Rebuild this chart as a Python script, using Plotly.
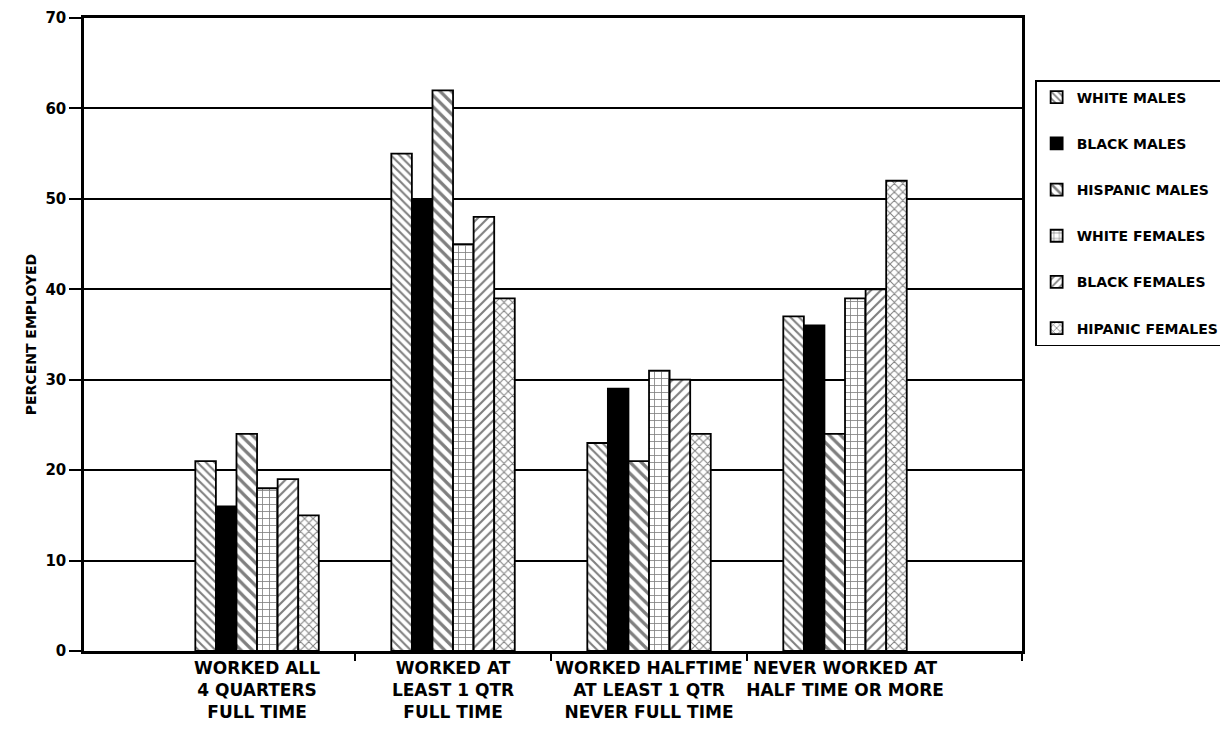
import plotly.graph_objects as go

categories = [
    "WORKED ALL<br>4 QUARTERS<br>FULL TIME",
    "WORKED AT<br>LEAST 1 QTR<br>FULL TIME",
    "WORKED HALFTIME<br>AT LEAST 1 QTR<br>NEVER FULL TIME",
    "NEVER WORKED AT<br>HALF TIME OR MORE<br> ",
]
series_names = ["WHITE MALES", "BLACK MALES", "HISPANIC MALES",
                "WHITE FEMALES", "BLACK FEMALES", "HIPANIC FEMALES"]
white_males = [21, 55, 23, 37]
black_males = [16, 50, 29, 36]
hispanic_males = [24, 62, 21, 24]
white_females = [18, 45, 31, 39]
black_females = [19, 48, 30, 40]
hispanic_females = [15, 39, 24, 52]
y_ticks = [0, 10, 20, 30, 40, 50, 60, 70]

series_values = [white_males, black_males, hispanic_males,
                 white_females, black_females, hispanic_females]
styles = [
    dict(color="white", pattern=dict(shape="\\", size=6, solidity=0.35, fgcolor="black", bgcolor="white")),
    dict(color="black"),
    dict(color="white", pattern=dict(shape="\\", size=8, solidity=0.4, fgcolor="black", bgcolor="white")),
    dict(color="white", pattern=dict(shape="+", size=7, solidity=0.22, fgcolor="black", bgcolor="white")),
    dict(color="white", pattern=dict(shape="/", size=7, solidity=0.3, fgcolor="black", bgcolor="white")),
    dict(color="white", pattern=dict(shape="x", size=6, solidity=0.3, fgcolor="black", bgcolor="white")),
]

xpos = list(range(len(categories)))
FONT = "DejaVu Sans"

fig = go.Figure()
for i, (name, vals, st) in enumerate(zip(series_names, series_values, styles)):
    marker = dict(st)
    marker["line"] = dict(color="black", width=1.8)
    fig.add_trace(go.Bar(x=xpos, y=vals, name=name, marker=marker,
                         legendgroup=f"g{i}"))

# empty trace carrying the category-boundary tick marks on an overlaying axis
fig.add_trace(go.Scatter(x=[None], y=[None], xaxis="x2", showlegend=False,
                         hoverinfo="skip"))

xrange = [-0.883, 3.903]
fig.update_layout(
    width=1228, height=739,
    margin=dict(l=76, r=214, t=10, b=96),
    paper_bgcolor="white", plot_bgcolor="white",
    barmode="group", bargap=0.37, bargroupgap=0,
    font=dict(family=FONT, color="black", size=15, weight="bold"),
    xaxis=dict(range=xrange, tickvals=xpos, ticktext=categories, ticks="",
               showgrid=False, showline=True, linecolor="black", linewidth=2.5,
               mirror=True, automargin=False,
               tickfont=dict(size=17, family=FONT, weight="bold"),
               zeroline=False),
    xaxis2=dict(range=xrange, overlaying="x", anchor="y", side="bottom",
                tickvals=[0.5, 1.5, 2.5, xrange[1]], ticks="outside", ticklen=9,
                tickwidth=2, tickcolor="black", showticklabels=False,
                showgrid=False, showline=False, zeroline=False, automargin=False),
    yaxis=dict(range=[0, 70], tickvals=y_ticks, ticks="outside", ticklen=12,
               tickwidth=2, tickcolor="black",
               showgrid=True, gridcolor="black", gridwidth=2,
               showline=True, linecolor="black", linewidth=2.5, mirror=True,
               zeroline=False, automargin=False,
               tickfont=dict(size=15, family=FONT, weight="bold"),
               title=dict(text="PERCENT EMPLOYED",
                          font=dict(size=14, family=FONT, weight="bold"),
                          standoff=6)),
    legend=dict(x=1.014, y=0.902, xanchor="left", yanchor="top",
                bordercolor="black", borderwidth=1.5, bgcolor="white",
                font=dict(size=14, family=FONT, weight="bold"),
                tracegroupgap=25, itemwidth=30),
)

fig.write_html("out.html")
